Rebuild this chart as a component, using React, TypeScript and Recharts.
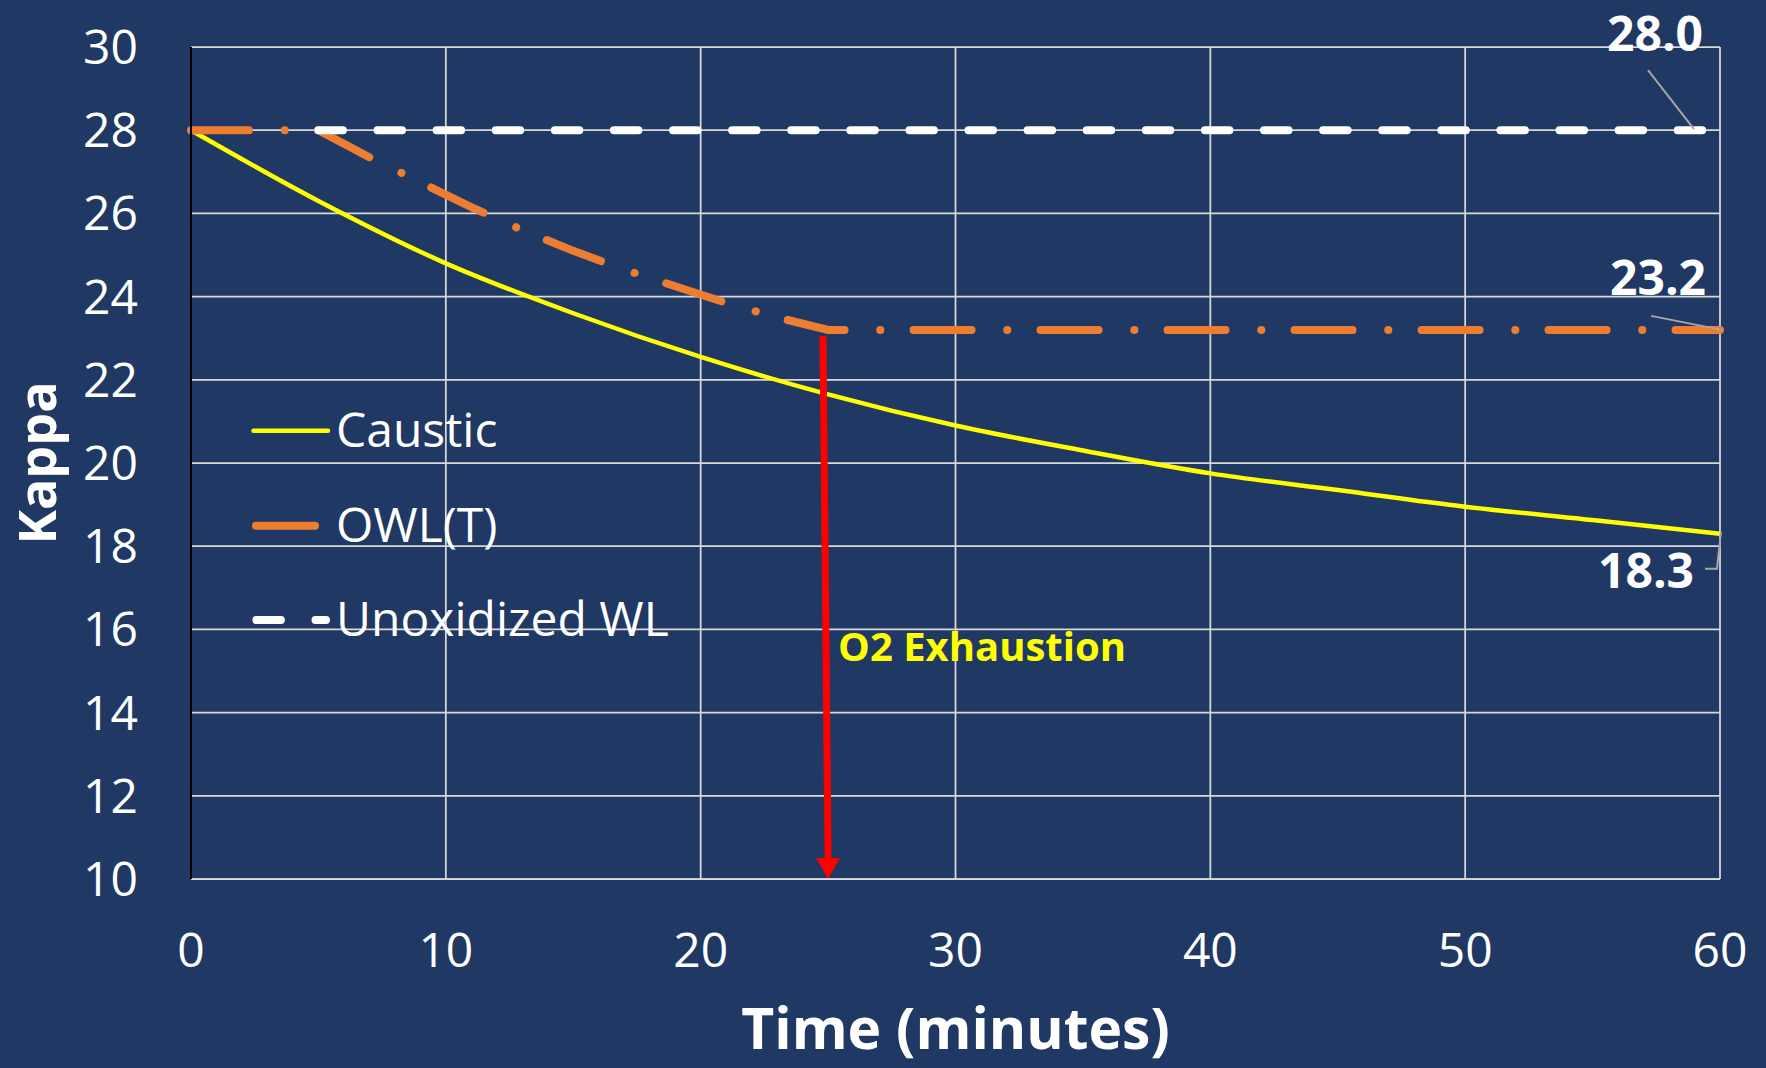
import { LineChart, Line, XAxis, YAxis, CartesianGrid, Legend, ReferenceLine, ReferenceDot, Label } from 'recharts';

// time in minutes, kappa number
const causticTime = [0, 5, 10, 15, 20, 25, 30, 35, 40, 45, 50, 55, 60];
const causticKappa = [28, 26.3, 24.8, 23.6, 22.55, 21.65, 20.9, 20.3, 19.75, 19.35, 18.95, 18.63, 18.3];

const owlTime = [0, 5, 7, 9, 11, 13, 15, 17, 19, 21, 23, 25, 60];
const owlKappa = [28, 28, 27.35, 26.75, 26.15, 25.6, 25.1, 24.65, 24.25, 23.85, 23.5, 23.2, 23.2];

const unoxTime = [5, 10, 15, 20, 25, 30, 35, 40, 45, 50, 55, 60];
const unoxKappa = [28, 28, 28, 28, 28, 28, 28, 28, 28, 28, 28, 28];

const xTicks = [0, 10, 20, 30, 40, 50, 60];
const yTicks = [10, 12, 14, 16, 18, 20, 22, 24, 26, 28, 30];

// O2 exhaustion annotation (data units)
const exhaustionTime = 25;
const exhaustionTop = 23.05;
const exhaustionLabelKappa = 15.25;

const toRows = (xs: number[], ys: number[]) => xs.map((t, i) => ({ t, kappa: ys[i] }));

const causticData = toRows(causticTime, causticKappa);
const owlData = toRows(owlTime, owlKappa);
const unoxData = toRows(unoxTime, unoxKappa);

const FONT = '"Open Sans", "Noto Sans", sans-serif';
const BG = '#203864';
const GRID = '#D9D9D9';
const LEADER = '#A6A6A6';

const series = [
  { name: 'Caustic', data: causticData, color: '#FFFF00', width: 4.5, dash: undefined, cap: 'butt' },
  { name: 'OWL(T)', data: owlData, color: '#ED7D31', width: 8, dash: '58 35.7 0.1 33.2', cap: 'round' },
  { name: 'Unoxidized WL', data: unoxData, color: '#FFFFFF', width: 8, dash: '24.5 34.6', cap: 'round' },
];

// end-point value labels: text centre / baseline and leader line, relative to the point
const endLabels = [
  { data: unoxData, dx: -65, dy: -79, leader: [[-72, -60], [-26, -1]] },
  { data: owlData, dx: -62, dy: -35, leader: [[-69, -14], [2, 0]] },
  { data: causticData, dx: -74, dy: 54, leader: [[-15, 35], [-3, 35], [1, -2]] },
];

const ChartLegend = () => (
  <svg width={520} height={280} style={{ display: 'block' }}>
    <line x1={13.5} y1={50.7} x2={88} y2={50.7} stroke={series[0].color} strokeWidth={4.5} strokeLinecap="round" />
    <text x={96} y={66.5} fill="#fff" fontSize={48} fontFamily={FONT}>{series[0].name}</text>
    <line x1={16} y1={145.7} x2={75} y2={145.7} stroke={series[1].color} strokeWidth={8} strokeLinecap="round" />
    <text x={96} y={161.5} fill="#fff" fontSize={48} fontFamily={FONT}>{series[1].name}</text>
    <line x1={16.4} y1={240} x2={86} y2={240} stroke={series[2].color} strokeWidth={8} strokeLinecap="round" strokeDasharray={series[2].dash} />
    <text x={96} y={256} fill="#fff" fontSize={48} fontFamily={FONT}>{series[2].name}</text>
  </svg>
);

const App = () => {
  return (
    <div style={{ position: 'absolute', left: 0, top: 0, width: 1766, height: 1068, background: BG, fontFamily: FONT }}>
      <LineChart width={1766} height={1068} margin={{ top: 47, right: 46, bottom: 0, left: 0 }}>
        <CartesianGrid stroke={GRID} strokeWidth={1.75} />
        <XAxis
          type="number"
          dataKey="t"
          domain={[0, 60]}
          ticks={xTicks}
          height={189}
          tickSize={0}
          tickMargin={54}
          axisLine={{ stroke: GRID, strokeWidth: 1.75 }}
          tick={{ fill: '#fff', fontSize: 48, fontFamily: FONT }}
        >
          <Label
            content={(p: any) => {
              const vb = p.viewBox || { x: 191, y: 879, width: 1529, height: 189 };
              return (
                <text x={vb.x + vb.width / 2} y={vb.y + vb.height - 19} textAnchor="middle" fill="#fff" fontSize={57} fontWeight={700} fontFamily={FONT}>
                  Time (minutes)
                </text>
              );
            }}
          />
        </XAxis>
        <YAxis
          type="number"
          domain={[10, 30]}
          ticks={yTicks}
          width={191}
          tickSize={0}
          tickMargin={53}
          axisLine={{ stroke: '#000', strokeWidth: 2 }}
          tick={{ fill: '#fff', fontSize: 48, fontFamily: FONT }}
        >
          <Label
            content={(p: any) => {
              const vb = p.viewBox || { x: 0, y: 47, width: 191, height: 832 };
              const cx = vb.x + 56;
              const cy = vb.y + vb.height / 2;
              return (
                <text x={cx} y={cy} transform={`rotate(-90, ${cx}, ${cy})`} textAnchor="middle" fill="#fff" fontSize={52} fontWeight={700} fontFamily={FONT}>
                  Kappa
                </text>
              );
            }}
          />
        </YAxis>
        {series.map((s) => (
          <Line
            key={s.name}
            data={s.data}
            dataKey="kappa"
            name={s.name}
            type={s.name === 'Caustic' ? 'monotone' : 'linear'}
            stroke={s.color}
            strokeWidth={s.width}
            strokeDasharray={s.dash}
            strokeLinecap={s.cap as any}
            dot={false}
            activeDot={false}
            isAnimationActive={false}
          />
        ))}
        <ReferenceLine
          segment={[{ x: exhaustionTime - 0.2, y: exhaustionTop }, { x: exhaustionTime, y: 10 }]}
          shape={(p: any) => (
            <g>
              <line x1={p.x1} y1={p.y1} x2={p.x2} y2={p.y2 - 18} stroke="#FF0000" strokeWidth={7} />
              <polygon points={`${p.x2 - 12},${p.y2 - 21} ${p.x2 + 12},${p.y2 - 21} ${p.x2},${p.y2}`} fill="#FF0000" />
            </g>
          )}
        />
        <ReferenceDot
          x={exhaustionTime}
          y={exhaustionLabelKappa}
          r={0}
          shape={(p: any) => (
            <text x={p.cx + 10} y={p.cy} fill="#FFFF00" fontSize={40} fontWeight={700} fontFamily={FONT}>
              O2 Exhaustion
            </text>
          )}
        />
        {endLabels.map((l, i) => {
          const last = l.data[l.data.length - 1];
          return (
            <ReferenceDot
              key={i}
              x={last.t}
              y={last.kappa}
              r={0}
              shape={(p: any) => (
                <g>
                  <polyline
                    points={l.leader.map(([a, b]) => `${p.cx + a},${p.cy + b}`).join(' ')}
                    fill="none"
                    stroke={LEADER}
                    strokeWidth={2}
                  />
                  <text x={p.cx + l.dx} y={p.cy + l.dy} textAnchor="middle" fill="#fff" fontSize={48} fontWeight={700} fontFamily={FONT}>
                    {last.kappa.toFixed(1)}
                  </text>
                </g>
              )}
            />
          );
        })}
        <Legend
          verticalAlign="middle"
          align="center"
          layout="horizontal"
          wrapperStyle={{ left: 240, top: 380, width: 520 }}
          content={() => <ChartLegend />}
        />
      </LineChart>
    </div>
  );
};

export default App;
